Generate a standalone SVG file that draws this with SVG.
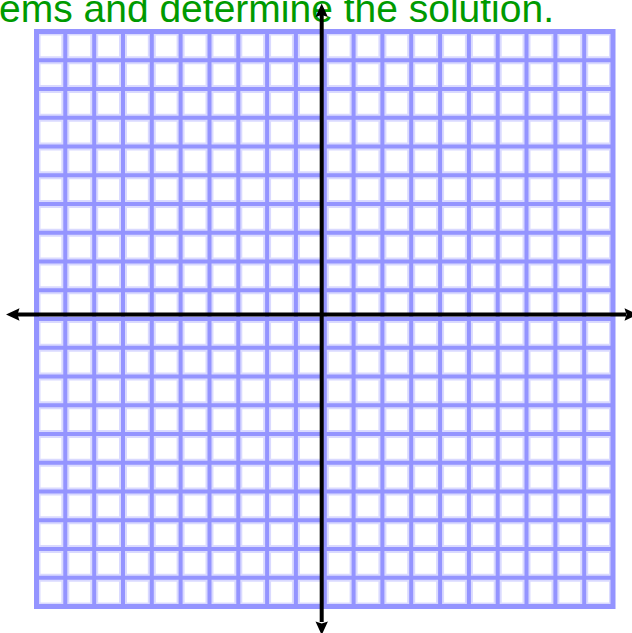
<svg xmlns="http://www.w3.org/2000/svg" width="632" height="633" viewBox="0 0 632 633">
  <style>
    .title { font-family: "Liberation Sans", Arial, sans-serif; font-size: 39px; fill: #009a00; }
    .halo { fill: none; stroke: #dadaff; stroke-width: 8; }
    .line { fill: none; stroke: #9494ff; stroke-width: 4; }
    .frame { fill: none; stroke: #9494ff; stroke-width: 5; }
    .frame-halo { fill: none; stroke: #dadaff; stroke-width: 8; }
    .axis { fill: none; stroke: #000000; stroke-width: 4; }
    .head { fill: #000000; }
  </style>
  <defs>
    <clipPath id="inside">
      <rect x="36.5" y="31.5" width="576.5" height="575"/>
    </clipPath>
  </defs>
  <rect x="0" y="0" width="632" height="633" fill="#ffffff"/>
  <text class="title" x="-1" y="21.5">ems and determine the solution.</text>
  <g id="grid">
    <g clip-path="url(#inside)">
      <path class="halo" d="M65.3,31.5V606.5M94.2,31.5V606.5M123,31.5V606.5M151.8,31.5V606.5M180.6,31.5V606.5M209.5,31.5V606.5M238.3,31.5V606.5M267.1,31.5V606.5M295.9,31.5V606.5M324.8,31.5V606.5M353.6,31.5V606.5M382.4,31.5V606.5M411.2,31.5V606.5M440.1,31.5V606.5M468.9,31.5V606.5M497.7,31.5V606.5M526.5,31.5V606.5M555.4,31.5V606.5M584.2,31.5V606.5M36.5,60.3H613M36.5,89H613M36.5,117.8H613M36.5,146.5H613M36.5,175.3H613M36.5,204H613M36.5,232.8H613M36.5,261.5H613M36.5,290.3H613M36.5,319H613M36.5,347.8H613M36.5,376.5H613M36.5,405.3H613M36.5,434H613M36.5,462.8H613M36.5,491.5H613M36.5,520.3H613M36.5,549H613M36.5,577.8H613"/>
      <rect class="frame-halo" x="36.5" y="31.5" width="576.5" height="575"/>
    </g>
    <path class="line" d="M65.3,31.5V606.5M94.2,31.5V606.5M123,31.5V606.5M151.8,31.5V606.5M180.6,31.5V606.5M209.5,31.5V606.5M238.3,31.5V606.5M267.1,31.5V606.5M295.9,31.5V606.5M324.8,31.5V606.5M353.6,31.5V606.5M382.4,31.5V606.5M411.2,31.5V606.5M440.1,31.5V606.5M468.9,31.5V606.5M497.7,31.5V606.5M526.5,31.5V606.5M555.4,31.5V606.5M584.2,31.5V606.5M36.5,60.3H613M36.5,89H613M36.5,117.8H613M36.5,146.5H613M36.5,175.3H613M36.5,204H613M36.5,232.8H613M36.5,261.5H613M36.5,290.3H613M36.5,319H613M36.5,347.8H613M36.5,376.5H613M36.5,405.3H613M36.5,434H613M36.5,462.8H613M36.5,491.5H613M36.5,520.3H613M36.5,549H613M36.5,577.8H613"/>
    <rect class="frame" x="36.5" y="31.5" width="576.5" height="575"/>
  </g>
  <g id="axes">
    <path class="axis" d="M17,314.5H626"/>
    <path class="axis" d="M321.7,15V622"/>
    <path class="head" d="M6,314.5L19.5,308.3L17.5,314.5L19.5,320.7Z"/>
    <path class="head" d="M638,314.5L624.5,308.3L626.5,314.5L624.5,320.7Z"/>
    <path class="head" d="M321.7,3.5L315.5,17L321.7,15L327.9,17Z"/>
    <path class="head" d="M321.7,635L315.5,621.5L321.7,623.5L327.9,621.5Z"/>
  </g>
</svg>
